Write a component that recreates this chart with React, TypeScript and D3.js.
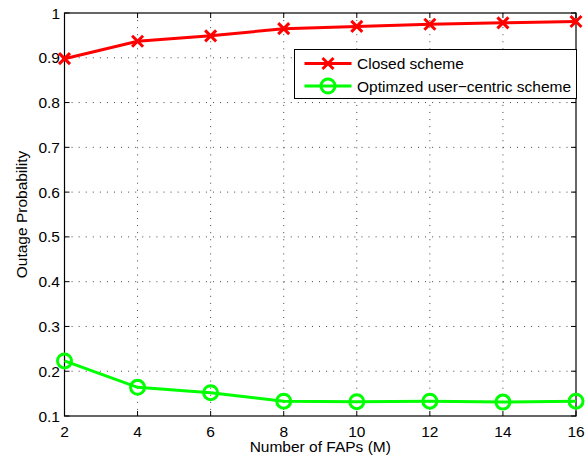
import React from "react";
import * as d3 from "d3";

const xValues = [2, 4, 6, 8, 10, 12, 14, 16];
const closedScheme = [0.898, 0.937, 0.949, 0.965, 0.970, 0.975, 0.978, 0.981];
const userCentric = [0.223, 0.164, 0.152, 0.133, 0.132, 0.133, 0.131, 0.133];
const xTicks = [2, 4, 6, 8, 10, 12, 14, 16];
const yTicks = [0.1, 0.2, 0.3, 0.4, 0.5, 0.6, 0.7, 0.8, 0.9, 1];
const seriesNames = ["Closed scheme", "Optimzed user\u2212centric scheme"];

const W = 588, H = 458;
const L = 64.5, R = 576, T = 13, B = 416;
const font = "'Liberation Sans', Arial, Helvetica, sans-serif";
const FS = 15.5;

export default function App() {
  const x = d3.scaleLinear().domain([2, 16]).range([L, R]);
  const y = d3.scaleLinear().domain([0.1, 1]).range([B, T]);
  const line = d3.line<number>().x((_, i) => x(xValues[i])).y((d) => y(d));
  const red = "#ff0000";
  const green = "#00ff00";
  const cross = (cx: number, cy: number, k: string, s = 5.5) => (
    <path key={k} d={`M${cx - s},${cy - s}L${cx + s},${cy + s}M${cx - s},${cy + s}L${cx + s},${cy - s}`} stroke={red} strokeWidth={3} fill="none" />
  );
  const lx0 = 294.5, ly0 = 49.5, lx1 = 576.5, ly1 = 98.5;
  return (
    <svg width={W} height={H} style={{ position: "absolute", left: 0, top: 0 }} fontFamily={font}>
      <rect x={0} y={0} width={W} height={H} fill="#fff" />
      {/* grid */}
      {xTicks.slice(1, -1).map((t) => (
        <line key={"gx" + t} x1={x(t)} x2={x(t)} y1={T} y2={B} stroke="#444" strokeWidth={1} strokeDasharray="1,6.07" />
      ))}
      {yTicks.slice(1, -1).map((t) => (
        <line key={"gy" + t} x1={L} x2={R} y1={y(t)} y2={y(t)} stroke="#444" strokeWidth={1} strokeDasharray="1,6.07" />
      ))}
      {/* ticks */}
      {xTicks.map((t) => (
        <g key={"tx" + t}>
          <line x1={x(t)} x2={x(t)} y1={B} y2={B - 5} stroke="#000" />
          <line x1={x(t)} x2={x(t)} y1={T} y2={T + 5} stroke="#000" />
          <text x={x(t)} y={436.5} textAnchor="middle" fontSize={FS}>{t}</text>
        </g>
      ))}
      {yTicks.map((t) => (
        <g key={"ty" + t}>
          <line x1={L} x2={L + 5} y1={y(t)} y2={y(t)} stroke="#000" />
          <line x1={R} x2={R - 5} y1={y(t)} y2={y(t)} stroke="#000" />
          <text x={60} y={y(t)} dy="0.36em" textAnchor="end" fontSize={FS}>{t}</text>
        </g>
      ))}
      <rect x={L} y={T} width={R - L} height={B - T} fill="none" stroke="#000" strokeWidth={1.2} />
      {/* series */}
      <path d={line(closedScheme) || ""} stroke={red} strokeWidth={3} fill="none" />
      {closedScheme.map((v, i) => cross(x(xValues[i]), y(v), "c" + i))}
      <path d={line(userCentric) || ""} stroke={green} strokeWidth={3} fill="none" />
      {userCentric.map((v, i) => (
        <circle key={"o" + i} cx={x(xValues[i])} cy={y(v)} r={7} stroke={green} strokeWidth={3} fill="none" />
      ))}
      {/* legend */}
      <rect x={lx0} y={ly0} width={lx1 - lx0} height={ly1 - ly0} fill="#fff" stroke="#000" strokeWidth={1} />
      <line x1={304.5} x2={351.5} y1={63.5} y2={63.5} stroke={red} strokeWidth={3} />
      {cross(328, 63.5, "lc")}
      <text x={357} y={63.5} dy="0.36em" fontSize={FS}>{seriesNames[0]}</text>
      <line x1={304.5} x2={351.5} y1={86} y2={86} stroke={green} strokeWidth={3} />
      <circle cx={328} cy={86} r={7} stroke={green} strokeWidth={3} fill="none" />
      <text x={357} y={86} dy="0.36em" fontSize={FS}>{seriesNames[1]}</text>
      {/* axis labels */}
      <text x={(L + R) / 2} y={452} textAnchor="middle" fontSize={FS}>Number of FAPs (M)</text>
      <text transform={`translate(27,${(T + B) / 2}) rotate(-90)`} textAnchor="middle" fontSize={FS}>Outage Probability</text>
    </svg>
  );
}
